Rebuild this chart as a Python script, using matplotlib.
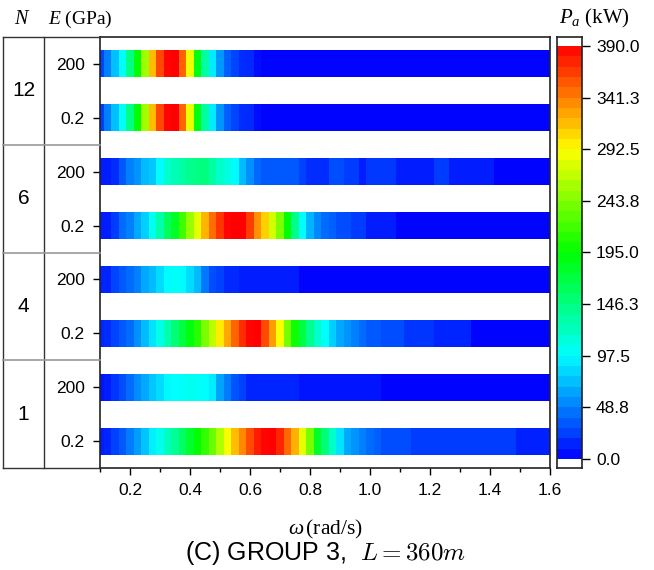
import numpy as np
import matplotlib
matplotlib.use("Agg")
import matplotlib.pyplot as plt
from matplotlib.colors import LinearSegmentedColormap, Normalize
from matplotlib.ticker import FixedLocator

plt.rcParams['font.family'] = ['Liberation Sans', 'DejaVu Sans']
plt.rcParams['mathtext.fontset'] = 'custom'
plt.rcParams['mathtext.rm'] = 'Liberation Serif'
plt.rcParams['mathtext.it'] = 'Liberation Serif:italic'

# -----------------------------
# Data (P_a in kW), omega grid 0.1 .. 1.6 step 0.025
# -----------------------------
omega = np.linspace(0.1, 1.6, 61)

n_labels = ["12", "6", "4", "1"]
e_labels = ["200", "0.2", "200", "0.2", "200", "0.2", "200", "0.2"]

pa_n12_e200 = [25, 50, 74, 100, 146, 192, 255, 318, 362, 388, 390, 352, 285, 190, 135, 90,
               58, 38, 27, 17, 16, 5] + [2] * 39
pa_n12_e02 = [24, 50, 74, 101, 146, 193, 256, 318, 362, 388, 390, 351, 284, 190, 135, 90,
              57, 38, 27, 17, 16, 5] + [2] * 39
pa_n6_e200 = [11, 12, 18, 34, 50, 57, 72, 77, 97, 118, 126, 134, 141, 146, 147, 134,
              118, 110, 97, 72, 56, 40, 34, 34, 34, 34, 34, 25, 17, 17, 17, 30, 30, 23, 23, 12,
              22, 22, 22, 22, 12, 12, 12, 12, 12, 24, 24, 12, 12, 12, 12, 12, 12] + [3] * 8
pa_n6_e02 = [11, 12, 23, 42, 50, 65, 80, 105, 130, 160, 180, 218, 252, 283, 320, 348,
             370, 388, 390, 389, 367, 334, 310, 275, 243, 195, 143, 99, 70, 52, 42, 38, 30, 30,
             23, 23, 12, 12, 12, 12] + [3] * 21
pa_n4_e200 = [14, 15, 27, 34, 42, 50, 65, 73, 84, 97, 101, 97, 84, 73, 46, 30,
              25, 16, 16, 11, 11, 11, 11, 11, 11, 11, 11] + [3] * 34
pa_n4_e02 = [14, 17, 27, 34, 42, 56, 72, 88, 108, 128, 150, 172, 190, 210, 242, 268,
             300, 325, 351, 373, 388, 390, 362, 330, 290, 240, 200, 170, 141, 118, 100, 80,
             65, 57, 50, 42, 34, 34, 29, 29, 29, 21, 21, 21, 21, 14, 14, 14, 14, 14] + [3] * 11
pa_n1_e200 = [8, 12, 20, 30, 42, 54, 65, 77, 84, 95, 98, 100, 104, 101, 97, 90,
              63, 48, 32, 25, 15, 15, 15, 15, 15, 15, 15, 8, 8, 8, 8, 8, 8, 8, 8, 8, 8, 8] + [3] * 23
pa_n1_e02 = [11, 15, 25, 34, 48, 60, 76, 92, 105, 122, 138, 158, 177, 195, 214, 235,
             263, 290, 318, 338, 360, 378, 388, 390, 375, 350, 322, 283, 240, 180, 150, 118,
             88, 65, 57, 50, 42, 38, 30, 30, 30, 30] + [23] * 14 + [13] * 5

rows = [pa_n12_e200, pa_n12_e02, pa_n6_e200, pa_n6_e02,
        pa_n4_e200, pa_n4_e02, pa_n1_e200, pa_n1_e02]

cbar_ticks = [0.0, 48.75, 97.5, 146.25, 195.0, 243.75, 292.5, 341.25, 390.0]
cbar_labels = ["0.0", "48.8", "97.5", "146.3", "195.0", "243.8", "292.5", "341.3", "390.0"]

# -----------------------------
# Colormap
# -----------------------------
node_colors = ["#0000ff", "#00ffff", "#00ff00", "#ffff00", "#ff0000"]
cmap = LinearSegmentedColormap.from_list("bcgyr", node_colors, N=256)
norm = Normalize(0, 390)

W, H = 654, 570
fig = plt.figure(figsize=(W / 100, H / 100), dpi=100)

def fx(px):
    return px / W

def fy(py):
    return 1 - py / H

top, bot = 37, 468
ax = fig.add_axes([fx(100), fy(bot), fx(550) - fx(100), fy(top) - fy(bot)])

xedges = np.concatenate(([omega[0] - 0.0125], omega + 0.0125))
for i, vals in enumerate(rows):
    ax.pcolormesh(xedges, [i - 0.25, i + 0.25], np.array(vals, dtype=float)[None, :],
                  cmap=cmap, norm=norm, shading='flat')

ax.set_xlim(0.1, 1.6)
ax.set_ylim(7.5, -0.5)
ax.set_yticks(range(8))
ax.set_yticklabels(e_labels)
ax.xaxis.set_major_locator(FixedLocator([0.2, 0.4, 0.6, 0.8, 1.0, 1.2, 1.4, 1.6]))
ax.xaxis.set_minor_locator(FixedLocator([0.1, 0.3, 0.5, 0.7, 0.9, 1.1, 1.3, 1.5]))
ax.set_xticklabels(["0.2", "0.4", "0.6", "0.8", "1.0", "1.2", "1.4", "1.6"])
ax.tick_params(axis='both', which='major', direction='out', length=5, width=1,
               labelsize=12.5, pad=6)
ax.tick_params(axis='x', which='minor', direction='out', length=3, width=1)
for s in ax.spines.values():
    s.set_linewidth(1.2)
    s.set_color('#222222')

ax.set_xlabel(r"$\omega\,\mathrm{(rad/s)}$", fontsize=15.5, labelpad=14)

# -----------------------------
# Left table (N column)
# -----------------------------
tab = fig.add_axes([fx(3), fy(bot), fx(100) - fx(3), fy(top) - fy(bot)])
tab.set_xlim(0, 1)
tab.set_ylim(7.5, -0.5)
tab.axis('off')
div = (44 - 3) / 97
tab.plot([0, 1], [-0.5, -0.5], color='#333333', lw=1, clip_on=False)
tab.plot([0, 1], [7.5, 7.5], color='#333333', lw=1, clip_on=False)
tab.plot([0, 0], [-0.5, 7.5], color='#333333', lw=1, clip_on=False)
tab.plot([div, div], [-0.5, 7.5], color='#333333', lw=1, clip_on=False)
for yb in [1.5, 3.5, 5.5]:
    tab.plot([0, 1], [yb, yb], color='#999999', lw=1.2, clip_on=False)
for k, lab in enumerate(n_labels):
    tab.text(div / 2, 2 * k + 0.5, lab, ha='center', va='center', fontsize=15)

fig.text(fx(22), fy(19), r"$N$", ha='center', va='center', fontsize=14.5)
fig.text(fx(48), fy(19), r"$E\ \mathrm{(GPa)}$", ha='left', va='center', fontsize=14)

# -----------------------------
# Colorbar
# -----------------------------
cax = fig.add_axes([fx(557), fy(bot), fx(582) - fx(557), fy(top) - fy(bot)])
levels = np.linspace(0, 390, 41)
mids = (levels[:-1] + levels[1:]) / 2
cax.pcolormesh([0, 1], levels, mids[:, None], cmap=cmap, norm=norm, shading='flat')
cax.set_xlim(0, 1)
cax.set_ylim(-8.5, 398.5)
cax.set_xticks([])
cax.yaxis.tick_right()
cax.set_yticks(cbar_ticks)
cax.set_yticklabels(cbar_labels)
cax.tick_params(axis='y', direction='out', length=6, width=1, labelsize=12.5, pad=4)
for s in cax.spines.values():
    s.set_linewidth(1.2)
    s.set_color('#222222')
fig.text(fx(594), fy(18), r"$P_a\ \mathrm{(kW)}$", ha='center', va='center', fontsize=15)

# -----------------------------
# Caption
# -----------------------------
fig.text(fx(325), fy(553), r"(C) GROUP 3,  $L = 360m$", ha='center', va='center',
         fontsize=18, math_fontfamily='cm')

fig.savefig("out.png", dpi=100)
